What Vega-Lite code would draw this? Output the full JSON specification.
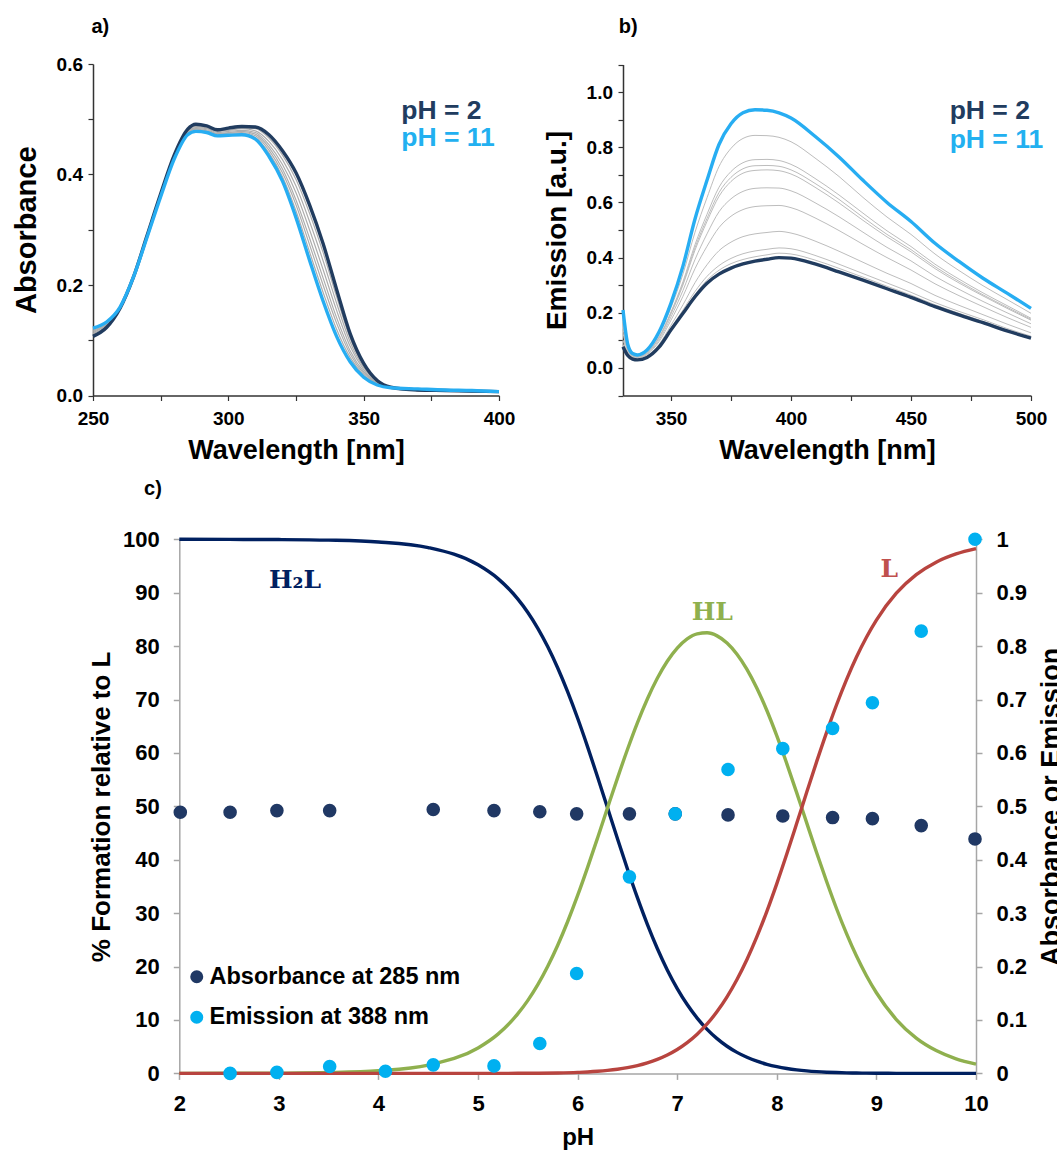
{
"$schema": "https://vega.github.io/schema/vega-lite/v6.json",
"width": 938,
"height": 1009.4,
"autosize": "none",
"padding": {"left": 93, "top": 64, "right": 26, "bottom": 79.6},
"background": "white",
"config": {
  "view": {"stroke": null},
  "axis": {"grid": false, "labelFont": "Liberation Sans", "titleFont": "Liberation Sans", "labelFontWeight": "bold", "titleFontWeight": "bold", "labelColor": "#000000", "titleColor": "#000000", "labelFlush": false, "labelOverlap": false}
},
"datasets": {
  "absorb": [
    {"s":"g1","w":250,"a":0.109},{"s":"g1","w":255,"a":0.125},{"s":"g1","w":260,"a":0.158},{"s":"g1","w":265,"a":0.215},{"s":"g1","w":270,"a":0.290},{"s":"g1","w":275,"a":0.364},{"s":"g1","w":280,"a":0.434},{"s":"g1","w":285,"a":0.481},{"s":"g1","w":288,"a":0.489},{"s":"g1","w":292,"a":0.486},{"s":"g1","w":296,"a":0.479},{"s":"g1","w":300,"a":0.482},{"s":"g1","w":305,"a":0.485},{"s":"g1","w":310,"a":0.483},{"s":"g1","w":315,"a":0.466},{"s":"g1","w":320,"a":0.435},{"s":"g1","w":325,"a":0.391},{"s":"g1","w":330,"a":0.330},{"s":"g1","w":335,"a":0.259},{"s":"g1","w":340,"a":0.179},{"s":"g1","w":345,"a":0.104},{"s":"g1","w":350,"a":0.054},{"s":"g1","w":355,"a":0.026},{"s":"g1","w":360,"a":0.015},{"s":"g1","w":370,"a":0.010},{"s":"g1","w":380,"a":0.008},{"s":"g1","w":390,"a":0.007},{"s":"g1","w":400,"a":0.006},
    {"s":"g2","w":250,"a":0.112},{"s":"g2","w":255,"a":0.126},{"s":"g2","w":260,"a":0.159},{"s":"g2","w":265,"a":0.215},{"s":"g2","w":270,"a":0.289},{"s":"g2","w":275,"a":0.364},{"s":"g2","w":280,"a":0.433},{"s":"g2","w":285,"a":0.479},{"s":"g2","w":288,"a":0.487},{"s":"g2","w":292,"a":0.484},{"s":"g2","w":296,"a":0.478},{"s":"g2","w":300,"a":0.480},{"s":"g2","w":305,"a":0.483},{"s":"g2","w":310,"a":0.479},{"s":"g2","w":315,"a":0.460},{"s":"g2","w":320,"a":0.427},{"s":"g2","w":325,"a":0.379},{"s":"g2","w":330,"a":0.315},{"s":"g2","w":335,"a":0.244},{"s":"g2","w":340,"a":0.167},{"s":"g2","w":345,"a":0.097},{"s":"g2","w":350,"a":0.051},{"s":"g2","w":355,"a":0.025},{"s":"g2","w":360,"a":0.015},{"s":"g2","w":370,"a":0.010},{"s":"g2","w":380,"a":0.008},{"s":"g2","w":390,"a":0.007},{"s":"g2","w":400,"a":0.006},
    {"s":"g3","w":250,"a":0.114},{"s":"g3","w":255,"a":0.128},{"s":"g3","w":260,"a":0.159},{"s":"g3","w":265,"a":0.215},{"s":"g3","w":270,"a":0.289},{"s":"g3","w":275,"a":0.363},{"s":"g3","w":280,"a":0.432},{"s":"g3","w":285,"a":0.478},{"s":"g3","w":288,"a":0.485},{"s":"g3","w":292,"a":0.483},{"s":"g3","w":296,"a":0.476},{"s":"g3","w":300,"a":0.478},{"s":"g3","w":305,"a":0.480},{"s":"g3","w":310,"a":0.476},{"s":"g3","w":315,"a":0.454},{"s":"g3","w":320,"a":0.418},{"s":"g3","w":325,"a":0.367},{"s":"g3","w":330,"a":0.300},{"s":"g3","w":335,"a":0.228},{"s":"g3","w":340,"a":0.154},{"s":"g3","w":345,"a":0.089},{"s":"g3","w":350,"a":0.047},{"s":"g3","w":355,"a":0.023},{"s":"g3","w":360,"a":0.015},{"s":"g3","w":370,"a":0.009},{"s":"g3","w":380,"a":0.008},{"s":"g3","w":390,"a":0.007},{"s":"g3","w":400,"a":0.006},
    {"s":"g4","w":250,"a":0.116},{"s":"g4","w":255,"a":0.129},{"s":"g4","w":260,"a":0.159},{"s":"g4","w":265,"a":0.215},{"s":"g4","w":270,"a":0.288},{"s":"g4","w":275,"a":0.362},{"s":"g4","w":280,"a":0.431},{"s":"g4","w":285,"a":0.476},{"s":"g4","w":288,"a":0.483},{"s":"g4","w":292,"a":0.481},{"s":"g4","w":296,"a":0.474},{"s":"g4","w":300,"a":0.476},{"s":"g4","w":305,"a":0.478},{"s":"g4","w":310,"a":0.473},{"s":"g4","w":315,"a":0.449},{"s":"g4","w":320,"a":0.410},{"s":"g4","w":325,"a":0.354},{"s":"g4","w":330,"a":0.285},{"s":"g4","w":335,"a":0.213},{"s":"g4","w":340,"a":0.141},{"s":"g4","w":345,"a":0.081},{"s":"g4","w":350,"a":0.043},{"s":"g4","w":355,"a":0.022},{"s":"g4","w":360,"a":0.014},{"s":"g4","w":370,"a":0.009},{"s":"g4","w":380,"a":0.008},{"s":"g4","w":390,"a":0.007},{"s":"g4","w":400,"a":0.006},
    {"s":"g5","w":250,"a":0.118},{"s":"g5","w":255,"a":0.130},{"s":"g5","w":260,"a":0.159},{"s":"g5","w":265,"a":0.215},{"s":"g5","w":270,"a":0.288},{"s":"g5","w":275,"a":0.361},{"s":"g5","w":280,"a":0.430},{"s":"g5","w":285,"a":0.475},{"s":"g5","w":288,"a":0.482},{"s":"g5","w":292,"a":0.479},{"s":"g5","w":296,"a":0.473},{"s":"g5","w":300,"a":0.475},{"s":"g5","w":305,"a":0.476},{"s":"g5","w":310,"a":0.470},{"s":"g5","w":315,"a":0.444},{"s":"g5","w":320,"a":0.403},{"s":"g5","w":325,"a":0.345},{"s":"g5","w":330,"a":0.273},{"s":"g5","w":335,"a":0.200},{"s":"g5","w":340,"a":0.131},{"s":"g5","w":345,"a":0.075},{"s":"g5","w":350,"a":0.040},{"s":"g5","w":355,"a":0.021},{"s":"g5","w":360,"a":0.014},{"s":"g5","w":370,"a":0.009},{"s":"g5","w":380,"a":0.008},{"s":"g5","w":390,"a":0.007},{"s":"g5","w":400,"a":0.006},
    {"s":"g6","w":250,"a":0.120},{"s":"g6","w":255,"a":0.132},{"s":"g6","w":260,"a":0.160},{"s":"g6","w":265,"a":0.215},{"s":"g6","w":270,"a":0.287},{"s":"g6","w":275,"a":0.361},{"s":"g6","w":280,"a":0.429},{"s":"g6","w":285,"a":0.474},{"s":"g6","w":288,"a":0.480},{"s":"g6","w":292,"a":0.478},{"s":"g6","w":296,"a":0.472},{"s":"g6","w":300,"a":0.473},{"s":"g6","w":305,"a":0.474},{"s":"g6","w":310,"a":0.467},{"s":"g6","w":315,"a":0.439},{"s":"g6","w":320,"a":0.396},{"s":"g6","w":325,"a":0.334},{"s":"g6","w":330,"a":0.260},{"s":"g6","w":335,"a":0.187},{"s":"g6","w":340,"a":0.120},{"s":"g6","w":345,"a":0.069},{"s":"g6","w":350,"a":0.037},{"s":"g6","w":355,"a":0.020},{"s":"g6","w":360,"a":0.014},{"s":"g6","w":370,"a":0.009},{"s":"g6","w":380,"a":0.008},{"s":"g6","w":390,"a":0.007},{"s":"g6","w":400,"a":0.006},
    {"s":"pH2","w":250,"a":0.107},{"s":"pH2","w":255,"a":0.123},{"s":"pH2","w":260,"a":0.158},{"s":"pH2","w":265,"a":0.215},{"s":"pH2","w":270,"a":0.290},{"s":"pH2","w":275,"a":0.365},{"s":"pH2","w":280,"a":0.435},{"s":"pH2","w":285,"a":0.482},{"s":"pH2","w":288,"a":0.491},{"s":"pH2","w":292,"a":0.488},{"s":"pH2","w":296,"a":0.481},{"s":"pH2","w":300,"a":0.484},{"s":"pH2","w":305,"a":0.487},{"s":"pH2","w":310,"a":0.486},{"s":"pH2","w":315,"a":0.472},{"s":"pH2","w":320,"a":0.443},{"s":"pH2","w":325,"a":0.403},{"s":"pH2","w":330,"a":0.345},{"s":"pH2","w":335,"a":0.275},{"s":"pH2","w":340,"a":0.192},{"s":"pH2","w":345,"a":0.112},{"s":"pH2","w":350,"a":0.058},{"s":"pH2","w":355,"a":0.027},{"s":"pH2","w":360,"a":0.015},{"s":"pH2","w":370,"a":0.010},{"s":"pH2","w":380,"a":0.009},{"s":"pH2","w":390,"a":0.008},{"s":"pH2","w":400,"a":0.007},
    {"s":"pH11","w":250,"a":0.122},{"s":"pH11","w":255,"a":0.133},{"s":"pH11","w":260,"a":0.160},{"s":"pH11","w":265,"a":0.215},{"s":"pH11","w":270,"a":0.287},{"s":"pH11","w":275,"a":0.360},{"s":"pH11","w":280,"a":0.428},{"s":"pH11","w":285,"a":0.472},{"s":"pH11","w":288,"a":0.478},{"s":"pH11","w":292,"a":0.476},{"s":"pH11","w":296,"a":0.470},{"s":"pH11","w":300,"a":0.471},{"s":"pH11","w":305,"a":0.472},{"s":"pH11","w":310,"a":0.464},{"s":"pH11","w":315,"a":0.433},{"s":"pH11","w":320,"a":0.388},{"s":"pH11","w":325,"a":0.322},{"s":"pH11","w":330,"a":0.245},{"s":"pH11","w":335,"a":0.171},{"s":"pH11","w":340,"a":0.107},{"s":"pH11","w":345,"a":0.061},{"s":"pH11","w":350,"a":0.033},{"s":"pH11","w":355,"a":0.019},{"s":"pH11","w":360,"a":0.014},{"s":"pH11","w":370,"a":0.012},{"s":"pH11","w":380,"a":0.010},{"s":"pH11","w":390,"a":0.009},{"s":"pH11","w":400,"a":0.007}
  ],
  "emis": [
    {"s":"g1","w":330,"e":0.187},{"s":"g1","w":332,"e":0.078},{"s":"g1","w":334,"e":0.049},{"s":"g1","w":336,"e":0.044},{"s":"g1","w":340,"e":0.060},{"s":"g1","w":345,"e":0.121},{"s":"g1","w":350,"e":0.219},{"s":"g1","w":355,"e":0.341},{"s":"g1","w":360,"e":0.492},{"s":"g1","w":365,"e":0.617},{"s":"g1","w":370,"e":0.730},{"s":"g1","w":375,"e":0.796},{"s":"g1","w":380,"e":0.832},{"s":"g1","w":385,"e":0.843},{"s":"g1","w":390,"e":0.842},{"s":"g1","w":395,"e":0.836},{"s":"g1","w":400,"e":0.820},{"s":"g1","w":410,"e":0.761},{"s":"g1","w":420,"e":0.694},{"s":"g1","w":430,"e":0.618},{"s":"g1","w":440,"e":0.547},{"s":"g1","w":450,"e":0.484},{"s":"g1","w":460,"e":0.413},{"s":"g1","w":470,"e":0.353},{"s":"g1","w":480,"e":0.298},{"s":"g1","w":490,"e":0.248},{"s":"g1","w":500,"e":0.198},
    {"s":"g2","w":330,"e":0.166},{"s":"g2","w":332,"e":0.072},{"s":"g2","w":334,"e":0.045},{"s":"g2","w":336,"e":0.041},{"s":"g2","w":340,"e":0.056},{"s":"g2","w":345,"e":0.112},{"s":"g2","w":350,"e":0.203},{"s":"g2","w":355,"e":0.313},{"s":"g2","w":360,"e":0.447},{"s":"g2","w":365,"e":0.557},{"s":"g2","w":370,"e":0.655},{"s":"g2","w":375,"e":0.712},{"s":"g2","w":380,"e":0.744},{"s":"g2","w":385,"e":0.755},{"s":"g2","w":390,"e":0.756},{"s":"g2","w":395,"e":0.752},{"s":"g2","w":400,"e":0.738},{"s":"g2","w":410,"e":0.687},{"s":"g2","w":420,"e":0.627},{"s":"g2","w":430,"e":0.561},{"s":"g2","w":440,"e":0.497},{"s":"g2","w":450,"e":0.440},{"s":"g2","w":460,"e":0.376},{"s":"g2","w":470,"e":0.322},{"s":"g2","w":480,"e":0.272},{"s":"g2","w":490,"e":0.226},{"s":"g2","w":500,"e":0.180},
    {"s":"g3","w":330,"e":0.161},{"s":"g3","w":332,"e":0.070},{"s":"g3","w":334,"e":0.045},{"s":"g3","w":336,"e":0.040},{"s":"g3","w":340,"e":0.055},{"s":"g3","w":345,"e":0.110},{"s":"g3","w":350,"e":0.199},{"s":"g3","w":355,"e":0.306},{"s":"g3","w":360,"e":0.436},{"s":"g3","w":365,"e":0.542},{"s":"g3","w":370,"e":0.636},{"s":"g3","w":375,"e":0.691},{"s":"g3","w":380,"e":0.722},{"s":"g3","w":385,"e":0.733},{"s":"g3","w":390,"e":0.734},{"s":"g3","w":395,"e":0.731},{"s":"g3","w":400,"e":0.718},{"s":"g3","w":410,"e":0.669},{"s":"g3","w":420,"e":0.611},{"s":"g3","w":430,"e":0.546},{"s":"g3","w":440,"e":0.484},{"s":"g3","w":450,"e":0.429},{"s":"g3","w":460,"e":0.367},{"s":"g3","w":470,"e":0.314},{"s":"g3","w":480,"e":0.265},{"s":"g3","w":490,"e":0.220},{"s":"g3","w":500,"e":0.176},
    {"s":"g4","w":330,"e":0.157},{"s":"g4","w":332,"e":0.069},{"s":"g4","w":334,"e":0.044},{"s":"g4","w":336,"e":0.040},{"s":"g4","w":340,"e":0.054},{"s":"g4","w":345,"e":0.108},{"s":"g4","w":350,"e":0.196},{"s":"g4","w":355,"e":0.301},{"s":"g4","w":360,"e":0.427},{"s":"g4","w":365,"e":0.531},{"s":"g4","w":370,"e":0.622},{"s":"g4","w":375,"e":0.676},{"s":"g4","w":380,"e":0.706},{"s":"g4","w":385,"e":0.716},{"s":"g4","w":390,"e":0.718},{"s":"g4","w":395,"e":0.715},{"s":"g4","w":400,"e":0.703},{"s":"g4","w":410,"e":0.655},{"s":"g4","w":420,"e":0.598},{"s":"g4","w":430,"e":0.535},{"s":"g4","w":440,"e":0.475},{"s":"g4","w":450,"e":0.421},{"s":"g4","w":460,"e":0.360},{"s":"g4","w":470,"e":0.308},{"s":"g4","w":480,"e":0.261},{"s":"g4","w":490,"e":0.216},{"s":"g4","w":500,"e":0.173},
    {"s":"g5","w":330,"e":0.141},{"s":"g5","w":332,"e":0.064},{"s":"g5","w":334,"e":0.042},{"s":"g5","w":336,"e":0.038},{"s":"g5","w":340,"e":0.051},{"s":"g5","w":345,"e":0.101},{"s":"g5","w":350,"e":0.185},{"s":"g5","w":355,"e":0.281},{"s":"g5","w":360,"e":0.393},{"s":"g5","w":365,"e":0.486},{"s":"g5","w":370,"e":0.566},{"s":"g5","w":375,"e":0.613},{"s":"g5","w":380,"e":0.640},{"s":"g5","w":385,"e":0.651},{"s":"g5","w":390,"e":0.653},{"s":"g5","w":395,"e":0.652},{"s":"g5","w":400,"e":0.642},{"s":"g5","w":410,"e":0.599},{"s":"g5","w":420,"e":0.548},{"s":"g5","w":430,"e":0.492},{"s":"g5","w":440,"e":0.437},{"s":"g5","w":450,"e":0.388},{"s":"g5","w":460,"e":0.332},{"s":"g5","w":470,"e":0.285},{"s":"g5","w":480,"e":0.241},{"s":"g5","w":490,"e":0.200},{"s":"g5","w":500,"e":0.160},
    {"s":"g6","w":330,"e":0.125},{"s":"g6","w":332,"e":0.059},{"s":"g6","w":334,"e":0.039},{"s":"g6","w":336,"e":0.035},{"s":"g6","w":340,"e":0.048},{"s":"g6","w":345,"e":0.095},{"s":"g6","w":350,"e":0.173},{"s":"g6","w":355,"e":0.260},{"s":"g6","w":360,"e":0.360},{"s":"g6","w":365,"e":0.441},{"s":"g6","w":370,"e":0.509},{"s":"g6","w":375,"e":0.550},{"s":"g6","w":380,"e":0.574},{"s":"g6","w":385,"e":0.585},{"s":"g6","w":390,"e":0.588},{"s":"g6","w":395,"e":0.589},{"s":"g6","w":400,"e":0.581},{"s":"g6","w":410,"e":0.544},{"s":"g6","w":420,"e":0.498},{"s":"g6","w":430,"e":0.448},{"s":"g6","w":440,"e":0.400},{"s":"g6","w":450,"e":0.355},{"s":"g6","w":460,"e":0.305},{"s":"g6","w":470,"e":0.262},{"s":"g6","w":480,"e":0.222},{"s":"g6","w":490,"e":0.183},{"s":"g6","w":500,"e":0.147},
    {"s":"g7","w":330,"e":0.101},{"s":"g7","w":332,"e":0.052},{"s":"g7","w":334,"e":0.036},{"s":"g7","w":336,"e":0.032},{"s":"g7","w":340,"e":0.043},{"s":"g7","w":345,"e":0.085},{"s":"g7","w":350,"e":0.155},{"s":"g7","w":355,"e":0.229},{"s":"g7","w":360,"e":0.309},{"s":"g7","w":365,"e":0.374},{"s":"g7","w":370,"e":0.425},{"s":"g7","w":375,"e":0.456},{"s":"g7","w":380,"e":0.476},{"s":"g7","w":385,"e":0.486},{"s":"g7","w":390,"e":0.491},{"s":"g7","w":395,"e":0.495},{"s":"g7","w":400,"e":0.489},{"s":"g7","w":410,"e":0.460},{"s":"g7","w":420,"e":0.423},{"s":"g7","w":430,"e":0.383},{"s":"g7","w":440,"e":0.343},{"s":"g7","w":450,"e":0.306},{"s":"g7","w":460,"e":0.263},{"s":"g7","w":470,"e":0.227},{"s":"g7","w":480,"e":0.193},{"s":"g7","w":490,"e":0.159},{"s":"g7","w":500,"e":0.127},
    {"s":"g8","w":330,"e":0.086},{"s":"g8","w":332,"e":0.048},{"s":"g8","w":334,"e":0.033},{"s":"g8","w":336,"e":0.030},{"s":"g8","w":340,"e":0.040},{"s":"g8","w":345,"e":0.079},{"s":"g8","w":350,"e":0.144},{"s":"g8","w":355,"e":0.210},{"s":"g8","w":360,"e":0.277},{"s":"g8","w":365,"e":0.332},{"s":"g8","w":370,"e":0.371},{"s":"g8","w":375,"e":0.397},{"s":"g8","w":380,"e":0.414},{"s":"g8","w":385,"e":0.424},{"s":"g8","w":390,"e":0.430},{"s":"g8","w":395,"e":0.435},{"s":"g8","w":400,"e":0.432},{"s":"g8","w":410,"e":0.408},{"s":"g8","w":420,"e":0.376},{"s":"g8","w":430,"e":0.342},{"s":"g8","w":440,"e":0.308},{"s":"g8","w":450,"e":0.274},{"s":"g8","w":460,"e":0.237},{"s":"g8","w":470,"e":0.205},{"s":"g8","w":480,"e":0.175},{"s":"g8","w":490,"e":0.143},{"s":"g8","w":500,"e":0.115},
    {"s":"g9","w":330,"e":0.081},{"s":"g9","w":332,"e":0.046},{"s":"g9","w":334,"e":0.033},{"s":"g9","w":336,"e":0.030},{"s":"g9","w":340,"e":0.039},{"s":"g9","w":345,"e":0.077},{"s":"g9","w":350,"e":0.141},{"s":"g9","w":355,"e":0.203},{"s":"g9","w":360,"e":0.266},{"s":"g9","w":365,"e":0.318},{"s":"g9","w":370,"e":0.354},{"s":"g9","w":375,"e":0.378},{"s":"g9","w":380,"e":0.393},{"s":"g9","w":385,"e":0.403},{"s":"g9","w":390,"e":0.410},{"s":"g9","w":395,"e":0.416},{"s":"g9","w":400,"e":0.413},{"s":"g9","w":410,"e":0.391},{"s":"g9","w":420,"e":0.361},{"s":"g9","w":430,"e":0.329},{"s":"g9","w":440,"e":0.296},{"s":"g9","w":450,"e":0.264},{"s":"g9","w":460,"e":0.229},{"s":"g9","w":470,"e":0.198},{"s":"g9","w":480,"e":0.169},{"s":"g9","w":490,"e":0.138},{"s":"g9","w":500,"e":0.111},
    {"s":"pH2","w":330,"e":0.077},{"s":"pH2","w":332,"e":0.045},{"s":"pH2","w":334,"e":0.032},{"s":"pH2","w":336,"e":0.029},{"s":"pH2","w":340,"e":0.038},{"s":"pH2","w":345,"e":0.075},{"s":"pH2","w":350,"e":0.138},{"s":"pH2","w":355,"e":0.198},{"s":"pH2","w":360,"e":0.258},{"s":"pH2","w":365,"e":0.307},{"s":"pH2","w":370,"e":0.340},{"s":"pH2","w":375,"e":0.362},{"s":"pH2","w":380,"e":0.377},{"s":"pH2","w":385,"e":0.387},{"s":"pH2","w":390,"e":0.394},{"s":"pH2","w":395,"e":0.400},{"s":"pH2","w":400,"e":0.398},{"s":"pH2","w":410,"e":0.377},{"s":"pH2","w":420,"e":0.348},{"s":"pH2","w":430,"e":0.318},{"s":"pH2","w":440,"e":0.287},{"s":"pH2","w":450,"e":0.256},{"s":"pH2","w":460,"e":0.222},{"s":"pH2","w":470,"e":0.192},{"s":"pH2","w":480,"e":0.164},{"s":"pH2","w":490,"e":0.134},{"s":"pH2","w":500,"e":0.108},
    {"s":"pH11","w":330,"e":0.210},{"s":"pH11","w":332,"e":0.085},{"s":"pH11","w":334,"e":0.052},{"s":"pH11","w":336,"e":0.047},{"s":"pH11","w":340,"e":0.065},{"s":"pH11","w":345,"e":0.130},{"s":"pH11","w":350,"e":0.235},{"s":"pH11","w":355,"e":0.370},{"s":"pH11","w":360,"e":0.540},{"s":"pH11","w":365,"e":0.680},{"s":"pH11","w":370,"e":0.810},{"s":"pH11","w":375,"e":0.885},{"s":"pH11","w":380,"e":0.925},{"s":"pH11","w":385,"e":0.936},{"s":"pH11","w":390,"e":0.934},{"s":"pH11","w":395,"e":0.925},{"s":"pH11","w":400,"e":0.906},{"s":"pH11","w":410,"e":0.840},{"s":"pH11","w":420,"e":0.765},{"s":"pH11","w":430,"e":0.680},{"s":"pH11","w":440,"e":0.600},{"s":"pH11","w":450,"e":0.531},{"s":"pH11","w":460,"e":0.452},{"s":"pH11","w":470,"e":0.386},{"s":"pH11","w":480,"e":0.325},{"s":"pH11","w":490,"e":0.271},{"s":"pH11","w":500,"e":0.216}
  ],
  "spec": [
    {"sp":"H2L","pH":2.0,"f":100},{"sp":"H2L","pH":2.5,"f":99.98},{"sp":"H2L","pH":3.0,"f":99.95},{"sp":"H2L","pH":3.5,"f":99.84},{"sp":"H2L","pH":4.0,"f":99.5},{"sp":"H2L","pH":4.5,"f":98.44},{"sp":"H2L","pH":5.0,"f":95.22},{"sp":"H2L","pH":5.2,"f":92.64},{"sp":"H2L","pH":5.4,"f":88.8},{"sp":"H2L","pH":5.5,"f":86.3},{"sp":"H2L","pH":5.6,"f":83.34},{"sp":"H2L","pH":5.7,"f":79.88},{"sp":"H2L","pH":5.8,"f":75.91},{"sp":"H2L","pH":5.9,"f":71.43},{"sp":"H2L","pH":6.0,"f":66.49},{"sp":"H2L","pH":6.1,"f":61.14},{"sp":"H2L","pH":6.2,"f":55.51},{"sp":"H2L","pH":6.3,"f":49.72},{"sp":"H2L","pH":6.4,"f":43.92},{"sp":"H2L","pH":6.5,"f":38.27},{"sp":"H2L","pH":6.6,"f":32.9},{"sp":"H2L","pH":6.7,"f":27.91},{"sp":"H2L","pH":6.8,"f":23.39},{"sp":"H2L","pH":6.9,"f":19.38},{"sp":"H2L","pH":7.0,"f":15.89},{"sp":"H2L","pH":7.1,"f":12.89},{"sp":"H2L","pH":7.2,"f":10.36},{"sp":"H2L","pH":7.3,"f":8.25},{"sp":"H2L","pH":7.4,"f":6.507},{"sp":"H2L","pH":7.5,"f":5.085},{"sp":"H2L","pH":7.6,"f":3.934},{"sp":"H2L","pH":7.7,"f":3.012},{"sp":"H2L","pH":7.8,"f":2.281},{"sp":"H2L","pH":7.9,"f":1.707},{"sp":"H2L","pH":8.0,"f":1.261},{"sp":"H2L","pH":8.1,"f":0.919},{"sp":"H2L","pH":8.2,"f":0.661},{"sp":"H2L","pH":8.3,"f":0.469},{"sp":"H2L","pH":8.4,"f":0.328},{"sp":"H2L","pH":8.5,"f":0.227},{"sp":"H2L","pH":8.6,"f":0.155},{"sp":"H2L","pH":8.7,"f":0.104},{"sp":"H2L","pH":8.8,"f":0.069},{"sp":"H2L","pH":8.9,"f":0.046},{"sp":"H2L","pH":9.0,"f":0.03},{"sp":"H2L","pH":9.2,"f":0.013},{"sp":"H2L","pH":9.4,"f":0.005},{"sp":"H2L","pH":9.6,"f":0.002},{"sp":"H2L","pH":9.8,"f":0.001},{"sp":"H2L","pH":10.0,"f":0},
    {"sp":"HL","pH":2.0,"f":0.005},{"sp":"HL","pH":2.5,"f":0.016},{"sp":"HL","pH":3.0,"f":0.05},{"sp":"HL","pH":3.5,"f":0.158},{"sp":"HL","pH":4.0,"f":0.5},{"sp":"HL","pH":4.5,"f":1.56},{"sp":"HL","pH":5.0,"f":4.77},{"sp":"HL","pH":5.2,"f":7.36},{"sp":"HL","pH":5.4,"f":11.18},{"sp":"HL","pH":5.5,"f":13.68},{"sp":"HL","pH":5.6,"f":16.63},{"sp":"HL","pH":5.7,"f":20.07},{"sp":"HL","pH":5.8,"f":24.0},{"sp":"HL","pH":5.9,"f":28.44},{"sp":"HL","pH":6.0,"f":33.32},{"sp":"HL","pH":6.1,"f":38.58},{"sp":"HL","pH":6.2,"f":44.09},{"sp":"HL","pH":6.3,"f":49.72},{"sp":"HL","pH":6.4,"f":55.29},{"sp":"HL","pH":6.5,"f":60.65},{"sp":"HL","pH":6.6,"f":65.64},{"sp":"HL","pH":6.7,"f":70.11},{"sp":"HL","pH":6.8,"f":73.98},{"sp":"HL","pH":6.9,"f":77.17},{"sp":"HL","pH":7.0,"f":79.63},{"sp":"HL","pH":7.1,"f":81.35},{"sp":"HL","pH":7.2,"f":82.3},{"sp":"HL","pH":7.3,"f":82.49},{"sp":"HL","pH":7.4,"f":81.92},{"sp":"HL","pH":7.5,"f":80.59},{"sp":"HL","pH":7.6,"f":78.49},{"sp":"HL","pH":7.7,"f":75.66},{"sp":"HL","pH":7.8,"f":72.13},{"sp":"HL","pH":7.9,"f":67.95},{"sp":"HL","pH":8.0,"f":63.2},{"sp":"HL","pH":8.1,"f":58.01},{"sp":"HL","pH":8.2,"f":52.52},{"sp":"HL","pH":8.3,"f":46.9},{"sp":"HL","pH":8.4,"f":41.3},{"sp":"HL","pH":8.5,"f":35.92},{"sp":"HL","pH":8.6,"f":30.83},{"sp":"HL","pH":8.7,"f":26.16},{"sp":"HL","pH":8.8,"f":21.97},{"sp":"HL","pH":8.9,"f":18.29},{"sp":"HL","pH":9.0,"f":15.1},{"sp":"HL","pH":9.2,"f":10.09},{"sp":"HL","pH":9.4,"f":6.61},{"sp":"HL","pH":9.6,"f":4.28},{"sp":"HL","pH":9.8,"f":2.74},{"sp":"HL","pH":10.0,"f":1.75},
    {"sp":"L","pH":2.0,"f":0},{"sp":"L","pH":3.0,"f":0},{"sp":"L","pH":4.0,"f":0},{"sp":"L","pH":5.0,"f":0.003},{"sp":"L","pH":5.4,"f":0.016},{"sp":"L","pH":5.6,"f":0.037},{"sp":"L","pH":5.8,"f":0.085},{"sp":"L","pH":6.0,"f":0.187},{"sp":"L","pH":6.1,"f":0.273},{"sp":"L","pH":6.2,"f":0.393},{"sp":"L","pH":6.3,"f":0.558},{"sp":"L","pH":6.4,"f":0.781},{"sp":"L","pH":6.5,"f":1.078},{"sp":"L","pH":6.6,"f":1.469},{"sp":"L","pH":6.7,"f":1.976},{"sp":"L","pH":6.8,"f":2.625},{"sp":"L","pH":6.9,"f":3.447},{"sp":"L","pH":7.0,"f":4.477},{"sp":"L","pH":7.1,"f":5.759},{"sp":"L","pH":7.2,"f":7.336},{"sp":"L","pH":7.3,"f":9.256},{"sp":"L","pH":7.4,"f":11.58},{"sp":"L","pH":7.5,"f":14.33},{"sp":"L","pH":7.6,"f":17.57},{"sp":"L","pH":7.7,"f":21.32},{"sp":"L","pH":7.8,"f":25.59},{"sp":"L","pH":7.9,"f":30.35},{"sp":"L","pH":8.0,"f":35.54},{"sp":"L","pH":8.1,"f":41.07},{"sp":"L","pH":8.2,"f":46.82},{"sp":"L","pH":8.3,"f":52.63},{"sp":"L","pH":8.4,"f":58.37},{"sp":"L","pH":8.5,"f":63.86},{"sp":"L","pH":8.6,"f":69.02},{"sp":"L","pH":8.7,"f":73.73},{"sp":"L","pH":8.8,"f":77.96},{"sp":"L","pH":8.9,"f":81.67},{"sp":"L","pH":9.0,"f":84.87},{"sp":"L","pH":9.2,"f":89.9},{"sp":"L","pH":9.4,"f":93.38},{"sp":"L","pH":9.6,"f":95.72},{"sp":"L","pH":9.8,"f":97.26},{"sp":"L","pH":10.0,"f":98.25}
  ],
  "pts": [
    {"series":"Absorbance at 285 nm","pH":2.01,"v":0.489},{"series":"Absorbance at 285 nm","pH":2.51,"v":0.489},{"series":"Absorbance at 285 nm","pH":2.98,"v":0.492},{"series":"Absorbance at 285 nm","pH":3.51,"v":0.492},{"series":"Absorbance at 285 nm","pH":4.55,"v":0.494},{"series":"Absorbance at 285 nm","pH":5.16,"v":0.492},{"series":"Absorbance at 285 nm","pH":5.62,"v":0.49},{"series":"Absorbance at 285 nm","pH":5.99,"v":0.486},{"series":"Absorbance at 285 nm","pH":6.52,"v":0.486},{"series":"Absorbance at 285 nm","pH":6.98,"v":0.486},{"series":"Absorbance at 285 nm","pH":7.51,"v":0.484},{"series":"Absorbance at 285 nm","pH":8.06,"v":0.482},{"series":"Absorbance at 285 nm","pH":8.56,"v":0.479},{"series":"Absorbance at 285 nm","pH":8.96,"v":0.477},{"series":"Absorbance at 285 nm","pH":9.45,"v":0.464},{"series":"Absorbance at 285 nm","pH":9.99,"v":0.439},
    {"series":"Emission at 388 nm","pH":2.51,"v":0.0},{"series":"Emission at 388 nm","pH":2.98,"v":0.002},{"series":"Emission at 388 nm","pH":3.51,"v":0.013},{"series":"Emission at 388 nm","pH":4.07,"v":0.004},{"series":"Emission at 388 nm","pH":4.55,"v":0.016},{"series":"Emission at 388 nm","pH":5.16,"v":0.014},{"series":"Emission at 388 nm","pH":5.62,"v":0.056},{"series":"Emission at 388 nm","pH":5.99,"v":0.187},{"series":"Emission at 388 nm","pH":6.52,"v":0.368},{"series":"Emission at 388 nm","pH":6.98,"v":0.486},{"series":"Emission at 388 nm","pH":7.51,"v":0.569},{"series":"Emission at 388 nm","pH":8.06,"v":0.608},{"series":"Emission at 388 nm","pH":8.56,"v":0.646},{"series":"Emission at 388 nm","pH":8.96,"v":0.694},{"series":"Emission at 388 nm","pH":9.45,"v":0.828},{"series":"Emission at 388 nm","pH":9.99,"v":1.0}
  ],
  "labelsA": [{"w":249.4,"a":0.656,"t":"a)"},{"w":363.9,"a":0.5005,"t":"pH = 2"},{"w":363.9,"a":0.451,"t":"pH = 11"}],
  "labelsB": [{"w":328.2,"e":1.214,"t":"b)"},{"w":466.1,"e":0.902,"t":"pH = 2"},{"w":466.1,"e":0.797,"t":"pH = 11"}],
  "labelsC": [{"pH":1.646,"f":108.3,"t":"c)"},{"pH":2.9,"f":90.8,"t":"H₂L"},{"pH":7.145,"f":84.8,"t":"HL"},{"pH":9.04,"f":92.9,"t":"L"}]
},
"layer": [
  {
    "data": {"name": "absorb"},
    "encoding": {
      "x": {"field": "w", "type": "quantitative",
        "scale": {"domain": [250, 400], "range": [0, 406], "nice": false, "zero": false},
        "axis": {"orient": "bottom", "offset": -677.9, "values": [250, 275, 300, 325, 350, 375, 400],
          "labelExpr": "datum.value % 50 === 0 ? datum.label : ''", "title": "Wavelength [nm]",
          "tickSize": 5, "labelPadding": 8.5, "labelFontSize": 19, "titleFontSize": 27, "titlePadding": 9,
          "domainColor": "#333333", "domainWidth": 1.5, "tickColor": "#333333", "tickWidth": 1.2}},
      "y": {"field": "a", "type": "quantitative",
        "scale": {"domain": [0, 0.6], "range": [331.5, 0], "nice": false, "zero": false},
        "axis": {"orient": "left", "offset": 0, "values": [0, 0.1, 0.2, 0.3, 0.4, 0.5, 0.6], "format": ".1f",
          "labelExpr": "round(datum.value*10) % 2 === 0 ? datum.label : ''", "title": "Absorbance",
          "tickSize": 5, "labelPadding": 5.5, "labelFontSize": 19, "titleFontSize": 29, "titlePadding": 15,
          "domainColor": "#333333", "domainWidth": 1.5, "tickColor": "#333333", "tickWidth": 1.2}}
    },
    "layer": [
      {"transform": [{"filter": "datum.s !== 'pH2' && datum.s !== 'pH11'"}],
       "mark": {"type": "line", "interpolate": "monotone", "strokeWidth": 1.2, "color": "#ADADAD"},
       "encoding": {"detail": {"field": "s", "type": "nominal"}}},
      {"transform": [{"filter": "datum.s === 'pH2'"}],
       "mark": {"type": "line", "interpolate": "monotone", "strokeWidth": 3.4, "color": "#213C5F"}},
      {"transform": [{"filter": "datum.s === 'pH11'"}],
       "mark": {"type": "line", "interpolate": "monotone", "strokeWidth": 3.4, "color": "#27ADF2"}},
      {"data": {"name": "labelsA"}, "transform": [{"filter": "datum.t === 'a)'"}],
       "mark": {"type": "text", "align": "left", "baseline": "alphabetic", "font": "Liberation Sans", "fontWeight": "bold", "fontSize": 20, "color": "#000000"},
       "encoding": {"text": {"field": "t"}}},
      {"data": {"name": "labelsA"}, "transform": [{"filter": "datum.t === 'pH = 2'"}],
       "mark": {"type": "text", "align": "left", "baseline": "alphabetic", "font": "Liberation Sans", "fontWeight": "bold", "fontSize": 26.5, "color": "#213C5F"},
       "encoding": {"text": {"field": "t"}}},
      {"data": {"name": "labelsA"}, "transform": [{"filter": "datum.t === 'pH = 11'"}],
       "mark": {"type": "text", "align": "left", "baseline": "alphabetic", "font": "Liberation Sans", "fontWeight": "bold", "fontSize": 26.5, "color": "#22B0F0"},
       "encoding": {"text": {"field": "t"}}}
    ]
  },
  {
    "data": {"name": "emis"},
    "encoding": {
      "x": {"field": "w", "type": "quantitative",
        "scale": {"domain": [330, 500], "range": [530, 938], "nice": false, "zero": false},
        "axis": {"orient": "bottom", "offset": -677.9, "values": [350, 375, 400, 425, 450, 475, 500],
          "labelExpr": "datum.value % 50 === 0 ? datum.label : ''", "title": "Wavelength [nm]",
          "tickSize": 5, "labelPadding": 8.5, "labelFontSize": 19, "titleFontSize": 27, "titlePadding": 9,
          "domainColor": "#333333", "domainWidth": 1.5, "tickColor": "#333333", "tickWidth": 1.2}},
      "y": {"field": "e", "type": "quantitative",
        "scale": {"domain": [-0.1, 1.1], "range": [331.5, 0.5], "nice": false, "zero": false},
        "axis": {"orient": "left", "offset": -530, "values": [-0.1, 0, 0.1, 0.2, 0.3, 0.4, 0.5, 0.6, 0.7, 0.8, 0.9, 1.0, 1.1], "format": ".1f",
          "labelExpr": "round(datum.value*10) % 2 === 0 ? datum.label : ''", "title": "Emission [a.u.]",
          "tickSize": 5, "labelPadding": 5.5, "labelFontSize": 19, "titleFontSize": 28, "titlePadding": 15,
          "domainColor": "#333333", "domainWidth": 1.5, "tickColor": "#333333", "tickWidth": 1.2}}
    },
    "layer": [
      {"transform": [{"filter": "datum.s !== 'pH2' && datum.s !== 'pH11'"}],
       "mark": {"type": "line", "interpolate": "monotone", "strokeWidth": 1, "color": "#BDBDBD"},
       "encoding": {"detail": {"field": "s", "type": "nominal"}}},
      {"transform": [{"filter": "datum.s === 'pH2'"}],
       "mark": {"type": "line", "interpolate": "monotone", "strokeWidth": 3.4, "color": "#213C5F"}},
      {"transform": [{"filter": "datum.s === 'pH11'"}],
       "mark": {"type": "line", "interpolate": "monotone", "strokeWidth": 3.4, "color": "#27ADF2"}},
      {"data": {"name": "labelsB"}, "transform": [{"filter": "datum.t === 'b)'"}],
       "mark": {"type": "text", "align": "left", "baseline": "alphabetic", "font": "Liberation Sans", "fontWeight": "bold", "fontSize": 20, "color": "#000000"},
       "encoding": {"text": {"field": "t"}}},
      {"data": {"name": "labelsB"}, "transform": [{"filter": "datum.t === 'pH = 2'"}],
       "mark": {"type": "text", "align": "left", "baseline": "alphabetic", "font": "Liberation Sans", "fontWeight": "bold", "fontSize": 26.5, "color": "#213C5F"},
       "encoding": {"text": {"field": "t"}}},
      {"data": {"name": "labelsB"}, "transform": [{"filter": "datum.t === 'pH = 11'"}],
       "mark": {"type": "text", "align": "left", "baseline": "alphabetic", "font": "Liberation Sans", "fontWeight": "bold", "fontSize": 26.5, "color": "#22B0F0"},
       "encoding": {"text": {"field": "t"}}}
    ]
  },
  {
    "encoding": {
      "x": {"field": "pH", "type": "quantitative",
        "scale": {"domain": [2, 10], "range": [86.3, 883], "nice": false, "zero": false},
        "axis": {"orient": "bottom", "offset": 0, "values": [2, 3, 4, 5, 6, 7, 8, 9, 10], "format": "d", "title": "pH",
          "tickSize": 6, "labelPadding": 14, "labelFontSize": 22, "titleFontSize": 24, "titlePadding": 11,
          "domainColor": "#A6A6A6", "domainWidth": 1.5, "tickColor": "#A6A6A6", "tickWidth": 1.5}}
    },
    "layer": [
      {
        "encoding": {
          "y": {"field": "f", "type": "quantitative",
            "scale": {"domain": [0, 100], "range": [1009.4, 475.3], "nice": false, "zero": false},
            "axis": {"orient": "left", "offset": -86.3, "values": [0, 10, 20, 30, 40, 50, 60, 70, 80, 90, 100], "format": "d",
              "title": "% Formation relative to L", "tickSize": 6, "labelPadding": 14, "labelFontSize": 22, "titleFontSize": 26, "titlePadding": 8,
              "domainColor": "#A6A6A6", "domainWidth": 1.5, "tickColor": "#A6A6A6", "tickWidth": 1.5}}
        },
        "layer": [
          {"data": {"name": "spec"},
           "mark": {"type": "line", "interpolate": "monotone", "strokeWidth": 3.4},
           "encoding": {"color": {"field": "sp", "type": "nominal", "scale": {"domain": ["H2L", "HL", "L"], "range": ["#002060", "#8FB04E", "#B8443F"]}, "legend": null}}},
          {"data": {"name": "labelsC"}, "transform": [{"filter": "datum.t === 'c)'"}],
           "mark": {"type": "text", "align": "left", "baseline": "alphabetic", "font": "Liberation Sans", "fontWeight": "bold", "fontSize": 20, "color": "#000000"},
           "encoding": {"text": {"field": "t"}}},
          {"data": {"name": "labelsC"}, "transform": [{"filter": "datum.t === 'H₂L'"}],
           "mark": {"type": "text", "align": "left", "baseline": "alphabetic", "font": "DejaVu Serif", "fontWeight": "bold", "fontSize": 25, "color": "#002060"},
           "encoding": {"text": {"field": "t"}}},
          {"data": {"name": "labelsC"}, "transform": [{"filter": "datum.t === 'HL'"}],
           "mark": {"type": "text", "align": "left", "baseline": "alphabetic", "font": "DejaVu Serif", "fontWeight": "bold", "fontSize": 25, "color": "#8FB04E"},
           "encoding": {"text": {"field": "t"}}},
          {"data": {"name": "labelsC"}, "transform": [{"filter": "datum.t === 'L'"}],
           "mark": {"type": "text", "align": "left", "baseline": "alphabetic", "font": "DejaVu Serif", "fontWeight": "bold", "fontSize": 25, "color": "#C0504D"},
           "encoding": {"text": {"field": "t"}}}
        ]
      },
      {
        "data": {"name": "pts"},
        "mark": {"type": "point", "filled": true, "size": 185, "opacity": 1},
        "encoding": {
          "y": {"field": "v", "type": "quantitative",
            "scale": {"domain": [0, 1], "range": [1009.4, 475.3], "nice": false, "zero": false},
            "axis": {"orient": "right", "offset": -55, "values": [0, 0.1, 0.2, 0.3, 0.4, 0.5, 0.6, 0.7, 0.8, 0.9, 1], "format": "~g",
              "title": "Absorbance or Emission", "titleAngle": -90, "titleBaseline": "top", "tickSize": 6, "labelPadding": 14, "labelFontSize": 22, "titleFontSize": 27, "titlePadding": 12,
              "domainColor": "#A6A6A6", "domainWidth": 1.5, "tickColor": "#A6A6A6", "tickWidth": 1.5}},
          "color": {"field": "series", "type": "nominal",
            "scale": {"domain": ["Absorbance at 285 nm", "Emission at 388 nm"], "range": ["#203864", "#00B0F0"]},
            "legend": {"orient": "none", "legendX": 92, "legendY": 901, "title": null, "padding": 0,
              "labelFont": "Liberation Sans", "labelFontWeight": "bold", "labelFontSize": 23.5, "labelColor": "#000000", "labelLimit": 400,
              "symbolType": "circle", "symbolSize": 170, "symbolStrokeWidth": 0, "rowPadding": 15.5, "labelOffset": 1}}
        }
      }
    ],
    "resolve": {"scale": {"y": "independent", "color": "independent"}, "axis": {"y": "independent"}}
  }
],
"resolve": {"scale": {"x": "independent", "y": "independent"}, "axis": {"x": "independent", "y": "independent"}}
}
